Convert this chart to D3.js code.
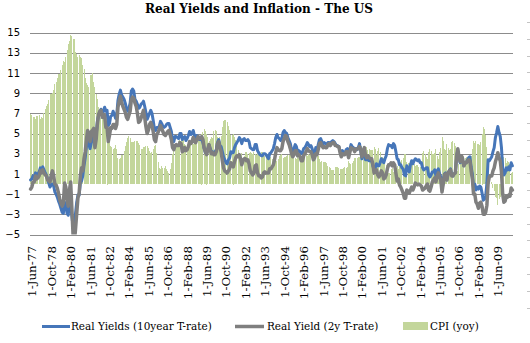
<!DOCTYPE html>
<html>
<head>
<meta charset="utf-8">
<script src="https://cdn.jsdelivr.net/npm/d3@7/dist/d3.min.js"></script>
<style>
  body { margin: 0; background: #fff; }
  svg { display: block; }
</style>
</head>
<body>
<svg id="chart" width="530" height="343"></svg>
<script>
// Monthly series, June 1977 through July 2010
const firstMonth = "1-Jun-77";

// CPI, year-on-year % change
const cpi = [
  6.9, 6.8, 6.6, 6.6, 6.4, 6.7, 6.7,
  6.8, 6.4, 6.6, 6.5, 7.0, 7.4, 7.7, 7.9, 8.3, 8.9, 8.9, 9.0,
  9.3, 9.9, 10.1, 10.5, 10.9, 10.9, 11.3, 11.8, 12.2, 12.1, 12.6, 13.3,
  13.9, 14.2, 14.8, 14.7, 14.4, 14.4, 13.1, 12.9, 12.6, 12.8, 12.6, 12.5,
  11.8, 11.4, 10.5, 10.0, 9.8, 9.6, 10.8, 10.8, 11.0, 10.1, 9.6, 8.9,
  8.4, 7.6, 6.8, 6.5, 6.7, 7.1, 6.4, 5.9, 5.0, 5.1, 4.6, 3.8,
  3.7, 3.5, 3.6, 3.9, 3.5, 2.6, 2.5, 2.6, 2.9, 2.9, 3.3, 3.8,
  4.2, 4.6, 4.8, 4.6, 4.2, 4.2, 4.2, 4.3, 4.3, 4.3, 4.1, 3.9,
  3.5, 3.5, 3.7, 3.7, 3.8, 3.8, 3.6, 3.3, 3.1, 3.2, 3.5, 3.8,
  3.9, 3.1, 2.2, 1.6, 1.5, 1.8, 1.6, 1.6, 1.8, 1.5, 1.3, 1.1,
  1.5, 2.1, 3.0, 3.8, 3.9, 3.7, 3.9, 4.3, 4.4, 4.5, 4.5, 4.4,
  4.0, 3.9, 3.9, 3.9, 3.9, 4.0, 4.1, 4.0, 4.2, 4.2, 4.2, 4.4,
  4.7, 4.8, 5.0, 5.1, 5.4, 5.2, 5.0, 4.7, 4.3, 4.5, 4.7, 4.6,
  5.2, 5.3, 5.2, 4.7, 4.4, 4.7, 4.8, 5.6, 6.2, 6.3, 6.3, 6.1,
  5.7, 5.3, 4.9, 4.9, 5.0, 4.7, 4.4, 3.8, 3.4, 2.9, 3.0, 3.1,
  2.6, 2.8, 3.2, 3.2, 3.0, 3.1, 3.2, 3.1, 3.0, 3.2, 3.0, 2.9,
  3.3, 3.2, 3.1, 3.2, 3.2, 3.0, 2.8, 2.8, 2.7, 2.8, 2.7, 2.7,
  2.5, 2.5, 2.5, 2.4, 2.3, 2.5, 2.8, 2.9, 3.0, 2.6, 2.7, 2.7,
  2.8, 2.9, 2.9, 3.1, 3.2, 3.0, 2.8, 2.6, 2.5, 2.8, 2.6, 2.5,
  2.7, 2.7, 2.8, 2.9, 2.9, 2.8, 3.0, 2.9, 3.0, 3.0, 3.3, 3.3,
  3.0, 3.0, 2.8, 2.5, 2.2, 2.3, 2.2, 2.2, 2.2, 2.1, 1.8, 1.7,
  1.6, 1.4, 1.4, 1.4, 1.7, 1.7, 1.7, 1.6, 1.5, 1.5, 1.5, 1.6,
  1.7, 1.6, 1.7, 2.3, 2.1, 2.0, 2.1, 2.3, 2.6, 2.6, 2.6, 2.7,
  2.7, 3.2, 3.8, 3.1, 3.2, 3.7, 3.7, 3.4, 3.5, 3.4, 3.4, 3.4,
  3.7, 3.5, 2.9, 3.3, 3.6, 3.2, 2.7, 2.7, 2.6, 2.1, 1.9, 1.6,
  1.1, 1.1, 1.5, 1.6, 1.2, 1.1, 1.5, 1.8, 1.5, 2.0, 2.2, 2.4,
  2.6, 3.0, 3.0, 2.2, 2.1, 2.1, 2.1, 2.2, 2.3, 2.0, 1.8, 1.9,
  1.9, 1.7, 1.7, 2.3, 3.1, 3.3, 3.0, 2.7, 2.5, 3.2, 3.5, 3.3,
  3.0, 3.0, 3.1, 3.5, 2.8, 2.5, 3.2, 3.6, 4.7, 4.3, 3.5, 3.4,
  4.0, 3.6, 3.4, 3.5, 4.2, 4.3, 4.1, 3.8, 2.1, 1.3, 2.0, 2.5,
  2.1, 2.4, 2.8, 2.6, 2.7, 2.7, 2.4, 2.0, 2.8, 3.5, 4.3, 4.1,
  4.3, 4.0, 4.0, 3.9, 4.2, 5.0, 5.6, 5.4, 4.9, 3.7, 1.1, 0.1,
  0.0, 0.2, -0.4, -0.7, -1.3, -1.4, -2.1, -1.5, -1.3, -0.2, 1.8, 2.7,
  2.6, 2.1, 2.3, 2.2, 2.0, 1.1, 1.2
];

// Real yield on the 10-year Treasury, %
const real10 = [
  0.4, 0.5, 0.8, 0.7, 1.1, 0.9, 1.0,
  1.2, 1.6, 1.4, 1.7, 1.4, 1.1, 0.9, 0.5, 0.1, -0.3, -0.1, 0.0,
  -0.2, -0.8, -1.0, -1.3, -1.7, -2.0, -2.4, -2.8, -2.9, -1.8, -2.0, -2.9,
  -3.1, -1.8, -2.1, -3.2, -4.2, -4.6, -2.9, -1.8, -1.1, -1.1, 0.1, 0.3,
  0.8, 1.8, 2.6, 3.7, 4.3, 3.9, 3.5, 4.1, 4.3, 5.1, 3.8, 4.8,
  6.2, 6.8, 7.1, 7.4, 6.9, 7.2, 7.6, 7.2, 7.3, 5.8, 6.0, 6.7,
  6.8, 7.2, 6.9, 6.5, 6.9, 8.3, 8.9, 9.3, 8.8, 8.6, 8.4, 8.0,
  7.5, 7.2, 7.5, 8.0, 9.2, 9.4, 9.2, 8.4, 8.2, 7.9, 7.5, 7.6,
  7.9, 8.0, 8.2, 7.7, 7.1, 6.4, 6.7, 7.0, 7.3, 7.0, 6.3, 5.5,
  5.3, 5.6, 5.6, 5.7, 6.2, 6.0, 5.7, 5.6, 5.7, 5.9, 6.0, 6.0,
  5.6, 5.2, 4.3, 4.2, 4.7, 4.7, 4.6, 4.5, 5.0, 5.0, 4.4, 4.6,
  4.7, 4.3, 4.5, 4.8, 5.2, 4.9, 5.0, 5.3, 4.8, 4.6, 4.8, 4.7,
  4.4, 4.4, 4.4, 4.1, 3.5, 3.1, 3.0, 3.4, 3.9, 3.5, 3.2, 3.2,
  3.0, 3.2, 3.4, 4.1, 4.4, 3.8, 3.7, 3.2, 2.7, 2.4, 2.1, 2.0,
  2.4, 2.6, 3.2, 3.1, 3.1, 3.6, 3.9, 4.1, 4.3, 4.6, 4.4, 4.0,
  4.4, 4.5, 4.3, 4.3, 4.4, 4.2, 3.6, 3.5, 3.4, 3.4, 3.9, 3.9,
  3.3, 3.1, 2.9, 2.8, 2.8, 3.0, 3.0, 2.9, 2.7, 2.5, 3.0, 3.1,
  3.3, 3.5, 4.0, 4.6, 4.9, 4.6, 4.5, 4.3, 4.5, 5.1, 5.3, 5.1,
  5.0, 4.6, 4.3, 4.0, 3.4, 3.2, 3.5, 3.9, 3.7, 3.2, 3.3, 3.2,
  3.0, 3.1, 3.5, 3.6, 3.8, 4.1, 3.9, 3.7, 3.8, 3.5, 2.9, 3.0,
  3.6, 3.4, 3.9, 4.4, 4.5, 4.2, 4.0, 4.1, 4.0, 3.9, 4.1, 4.1,
  3.9, 4.2, 4.3, 4.2, 4.0, 3.8, 3.8, 3.7, 3.3, 3.0, 3.3, 3.1,
  3.0, 3.4, 3.5, 2.9, 3.4, 3.9, 3.7, 3.6, 3.3, 3.5, 3.4, 3.6,
  4.0, 3.3, 2.5, 2.9, 3.2, 2.4, 2.4, 2.4, 2.3, 2.3, 2.3, 1.8,
  1.5, 1.6, 2.0, 1.8, 1.8, 2.1, 2.5, 2.3, 2.1, 2.5, 2.8, 3.5,
  3.9, 3.8, 3.8, 3.6, 4.0, 3.8, 3.2, 2.5, 2.4, 1.9, 1.9, 1.6,
  1.5, 0.9, 0.8, 1.8, 1.5, 1.2, 1.9, 2.3, 2.0, 2.3, 2.5, 2.4,
  2.3, 2.4, 2.1, 2.1, 1.6, 1.4, 1.5, 1.6, 1.6, 0.9, 0.7, 0.9,
  1.2, 1.2, 1.4, 0.8, 1.3, 1.5, 1.0, 0.7, -0.5, 0.2, 1.0, 1.1,
  0.4, 1.0, 1.3, 1.5, 0.9, 0.8, 1.0, 1.1, 2.6, 3.4, 2.6, 2.1,
  2.7, 2.3, 1.8, 2.1, 2.1, 2.4, 2.6, 2.7, 1.7, 1.0, -0.2, 0.0,
  -0.6, -0.3, -0.5, -0.2, -0.3, -0.9, -1.6, -1.5, -1.2, 0.1, 2.4, 2.3,
  2.5, 2.7, 3.2, 3.6, 4.6, 5.1, 5.7, 5.1, 4.7, 3.6, 1.6, 0.9,
  1.1, 1.6, 1.4, 1.7, 1.4, 2.1, 1.8
];

// Real yield on the 2-year Treasury, %
const real2 = [
  -0.5, -0.3, 0.2, 0.2, 0.8, 0.5, 0.6,
  0.8, 1.3, 1.1, 1.4, 1.1, 0.9, 0.8, 0.4, 0.3, 0.2, 0.9, 1.3,
  0.8, 0.0, -0.1, -0.4, -0.9, -1.5, -1.9, -2.2, -1.9, 0.1, -0.3, -1.5,
  -2.2, -0.6, 0.2, -2.4, -5.1, -5.8, -4.5, -2.9, -1.4, -0.9, 0.8, 1.6,
  1.3, 2.5, 3.2, 4.4, 5.3, 4.8, 4.2, 5.2, 5.3, 5.5, 3.6, 4.4,
  5.9, 6.9, 7.2, 7.3, 6.6, 6.9, 6.8, 5.6, 5.6, 4.2, 4.8, 5.6,
  5.5, 5.9, 5.9, 5.5, 5.9, 7.6, 8.2, 8.7, 8.1, 7.7, 7.4, 7.1,
  6.6, 6.4, 6.8, 7.2, 8.3, 8.6, 8.5, 8.0, 7.7, 7.0, 6.1, 6.2,
  6.5, 6.9, 7.3, 6.6, 5.7, 5.0, 5.3, 5.9, 6.1, 5.8, 5.2, 4.4,
  4.2, 4.9, 5.1, 5.4, 5.8, 5.5, 5.2, 4.9, 4.8, 5.0, 5.2, 5.3,
  4.9, 4.4, 3.6, 3.4, 3.8, 3.9, 3.8, 3.8, 4.1, 4.0, 3.2, 3.3,
  3.6, 3.3, 3.4, 3.7, 4.2, 4.0, 4.2, 4.6, 4.2, 4.1, 4.4, 4.7,
  4.5, 4.6, 4.7, 4.4, 3.6, 3.2, 2.9, 3.4, 3.9, 3.4, 3.0, 3.1,
  2.9, 2.9, 3.2, 4.0, 4.2, 3.6, 3.2, 2.3, 1.6, 1.3, 1.2, 1.1,
  1.3, 1.5, 2.1, 1.9, 1.7, 2.2, 2.6, 2.8, 2.7, 2.9, 2.5, 1.9,
  2.3, 2.5, 2.5, 2.3, 2.4, 2.0, 1.3, 1.1, 0.9, 1.1, 1.8, 1.9,
  1.1, 0.8, 0.8, 0.6, 0.7, 1.1, 1.2, 1.1, 1.1, 1.1, 1.5, 1.5,
  1.7, 1.9, 2.4, 3.1, 3.6, 3.4, 3.3, 3.3, 3.5, 4.2, 4.5, 4.8,
  4.7, 4.2, 3.9, 3.5, 3.0, 2.7, 2.9, 3.3, 3.3, 2.8, 2.9, 2.7,
  2.3, 2.3, 2.8, 3.0, 3.2, 3.5, 3.3, 3.2, 3.2, 2.9, 2.4, 2.6,
  3.0, 2.9, 3.4, 4.0, 4.1, 3.8, 3.6, 3.7, 3.6, 3.6, 3.9, 4.0,
  3.8, 4.0, 4.1, 4.1, 3.8, 3.8, 3.7, 3.7, 3.1, 2.7, 3.0, 2.9,
  2.9, 3.2, 3.2, 2.6, 3.1, 3.6, 3.5, 3.5, 3.2, 3.4, 3.5, 3.5,
  3.7, 3.4, 2.7, 3.3, 3.6, 2.8, 2.6, 2.8, 2.6, 2.5, 2.5, 2.0,
  1.1, 1.2, 1.4, 0.9, 0.7, 0.9, 1.3, 1.1, 0.5, 0.6, 0.9, 1.5,
  1.9, 1.9, 2.1, 1.8, 2.1, 1.9, 1.1, 0.3, 0.5, -0.1, -0.3, -0.6,
  -0.9, -1.4, -1.4, -0.6, -0.7, -0.9, -0.6, -0.3, -0.6, -0.3, 0.1, 0.0,
  -0.1, 0.0, -0.1, -0.2, -0.6, -0.5, -0.4, -0.2, 0.0, -0.6, -0.7, -0.3,
  0.2, 0.4, 0.6, 0.2, 0.8, 1.1, 0.7, 0.4, -0.8, 0.0, 0.9, 1.0,
  0.4, 1.1, 1.3, 1.4, 0.8, 0.8, 1.0, 1.1, 2.7, 3.5, 2.7, 2.2,
  2.8, 2.5, 1.8, 2.1, 2.1, 2.3, 2.4, 2.3, 1.3, 0.5, -1.0, -1.0,
  -1.8, -2.0, -2.4, -1.9, -1.8, -2.2, -3.0, -3.0, -2.8, -2.1, 0.1, 0.7,
  0.8, 0.8, 1.3, 1.6, 2.2, 2.6, 3.1, 2.6, 2.3, 1.2, -1.0, -1.8,
  -1.7, -1.2, -1.3, -1.1, -1.2, -0.4, -0.6
];

const yTicks = [-5, -3, -1, 1, 3, 5, 7, 9, 11, 13, 15];
const xTickLabels = [
  "1-Jun-77", "1-Oct-78", "1-Feb-80", "1-Jun-81", "1-Oct-82", "1-Feb-84",
  "1-Jun-85", "1-Oct-86", "1-Feb-88", "1-Jun-89", "1-Oct-90", "1-Feb-92",
  "1-Jun-93", "1-Oct-94", "1-Feb-96", "1-Jun-97", "1-Oct-98", "1-Feb-00",
  "1-Jun-01", "1-Oct-02", "1-Feb-04", "1-Jun-05", "1-Oct-06", "1-Feb-08",
  "1-Jun-09"
];
const seriesNames = ["Real Yields (10year T-rate)", "Real Yield (2y T-rate)", "CPI (yoy)"];
const titleText = "Real Yields and Inflation - The US";

// ---- layout ----
const W = 530, H = 343;
const plot = { left: 30, right: 513, top: 32.5, bottom: 234.5 };
const colors = { blue: "#4676B9", gray: "#7F7F7F", green: "#C3D69B", grid: "#8C8C8C" };
const serif = "'DejaVu Serif', Georgia, serif";

const parseDay = d3.timeParse("%d-%b-%y");
const start = parseDay(firstMonth);
const months = d3.timeMonth.range(start, d3.timeMonth.offset(start, cpi.length));

const x = d3.scaleBand().domain(d3.range(months.length)).range([plot.left, plot.right]).padding(0);
const cx = i => x(i) + x.bandwidth() / 2;
const y = d3.scaleLinear().domain([-5, 15]).range([plot.bottom, plot.top]);

const svg = d3.select("#chart");
svg.append("rect").attr("width", W).attr("height", H).attr("fill", "#fff");

svg.append("defs").append("clipPath").attr("id", "plotClip")
  .append("rect")
  .attr("x", plot.left - 2).attr("y", plot.top)
  .attr("width", plot.right - plot.left + 4).attr("height", plot.bottom - plot.top);

// gridlines
const yAxis = d3.axisLeft(y).tickValues(yTicks).tickSize(-(plot.right - plot.left)).tickPadding(10)
  .tickFormat(d3.format("d"));
const gy = svg.append("g").attr("transform", `translate(${plot.left},0)`).call(yAxis);
gy.select(".domain").remove();
gy.selectAll(".tick line").attr("stroke", colors.grid).attr("stroke-width", 1)
  .attr("shape-rendering", "crispEdges");
gy.selectAll(".tick text")
  .attr("font-family", "'DejaVu Sans', Verdana, sans-serif")
  .attr("font-size", 10).attr("fill", "#000").attr("x", 20 - plot.left);

// CPI bars, one pixel column per month
const zero = y(0);
svg.append("g").attr("clip-path", "url(#plotClip)")
  .selectAll("rect").data(cpi).join("rect")
  .attr("x", (d, i) => Math.floor(cx(i)))
  .attr("width", 1)
  .attr("y", d => Math.round(Math.min(y(d), zero)))
  .attr("height", d => Math.max(0, Math.round(Math.abs(y(d) - zero))))
  .attr("fill", colors.green)
  .attr("shape-rendering", "crispEdges");

// real-yield lines
const line = d3.line().x((d, i) => cx(i)).y(d => y(d));
const lines = svg.append("g").attr("clip-path", "url(#plotClip)");
lines.append("path").datum(real10).attr("d", line)
  .attr("fill", "none").attr("stroke", colors.blue).attr("stroke-width", 3)
  .attr("stroke-linejoin", "round").attr("stroke-linecap", "round");
lines.append("path").datum(real2).attr("d", line)
  .attr("fill", "none").attr("stroke", colors.gray).attr("stroke-width", 3.5)
  .attr("stroke-linejoin", "round").attr("stroke-linecap", "round");

// category labels, rotated
const labelG = svg.append("g");
const labelTexts = labelG.selectAll("text").data(xTickLabels).join("text")
  .text(d => d)
  .attr("font-family", serif).attr("font-size", 11).attr("fill", "#000")
  .attr("text-anchor", "end").attr("dy", "0.35em")
  .attr("transform", d => {
    const t = parseDay(d).getTime();
    const i = months.findIndex(m => m.getTime() === t);
    return `translate(${cx(i) + 1.5},${246}) rotate(-90)`;
  });
// scale label size so the text runs about 51px
{
  const w0 = labelTexts.node().getComputedTextLength();
  labelTexts.attr("font-size", 11 * 51 / w0);
}

// title
const title = svg.append("text").text(titleText)
  .attr("font-family", serif).attr("font-weight", "bold").attr("font-size", 13)
  .attr("fill", "#000").attr("text-anchor", "middle").attr("x", 259).attr("y", 13);
{
  const w0 = title.node().getComputedTextLength();
  title.attr("font-size", 13 * 228 / w0);
}

// legend
const legend = svg.append("g");
const legendY = 326.5;
legend.append("line").attr("x1", 42).attr("x2", 70).attr("y1", legendY).attr("y2", legendY)
  .attr("stroke", colors.blue).attr("stroke-width", 3);
legend.append("line").attr("x1", 235).attr("x2", 264).attr("y1", legendY).attr("y2", legendY)
  .attr("stroke", colors.gray).attr("stroke-width", 3.5);
legend.append("rect").attr("x", 403).attr("y", 322).attr("width", 25).attr("height", 8)
  .attr("fill", colors.green);
const legendStarts = [71, 267, 430];
const legendTexts = legend.selectAll("text.lg").data(seriesNames).join("text")
  .attr("class", "lg").text(d => d)
  .attr("font-family", serif).attr("font-size", 11).attr("fill", "#000")
  .attr("x", (d, i) => legendStarts[i]).attr("y", 330);
{
  const w0 = legendTexts.node().getComputedTextLength();
  legendTexts.attr("font-size", 11 * 141 / w0);
}

// faint tick marks along the right edge of the frame
const edgeTicks = d3.range(22, 320, 16.8);
svg.append("g").selectAll("line").data(edgeTicks).join("line")
  .attr("x1", 527).attr("x2", 530)
  .attr("y1", d => Math.round(d) + 0.5).attr("y2", d => Math.round(d) + 0.5)
  .attr("stroke", "#C4C4C4").attr("stroke-width", 1);
</script>
</body>
</html>
